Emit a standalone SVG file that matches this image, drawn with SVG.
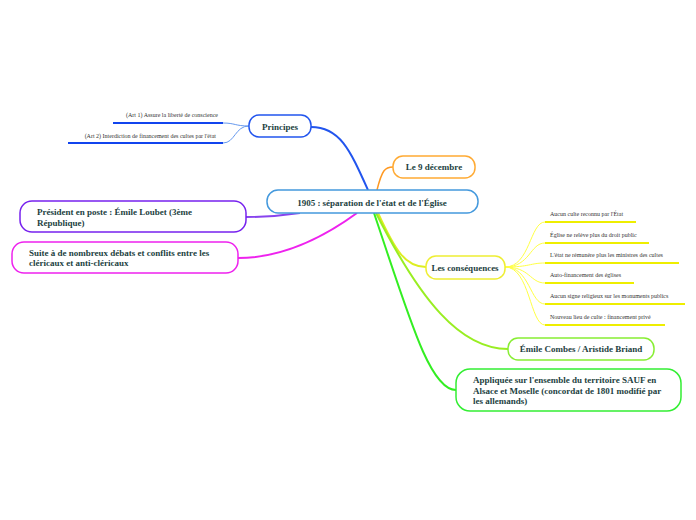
<svg xmlns="http://www.w3.org/2000/svg" width="696" height="520" viewBox="0 0 696 520">
<style>
.n{fill:#fff;stroke-width:1.5}
.t{font-family:"Liberation Serif",serif;font-weight:bold;font-size:9px;fill:#1d3f3f}
.s{font-family:"Liberation Serif",serif;font-size:6px;fill:#333}
.c{fill:none}
</style>
<rect width="696" height="520" fill="#fff"/>
<g id="connectors">
<path class="c" d="M368 190 C350 150 340 127 311 127" stroke="#2255ee" stroke-width="2"/>
<path class="c" d="M249 126 C235 126 235 123 223 123 M249 126 C235 126 235 143 223 143" stroke="#6699ee" stroke-width="1"/>
<line x1="113" y1="123" x2="223" y2="123" stroke="#1144ee" stroke-width="2"/>
<line x1="68" y1="143" x2="223" y2="143" stroke="#1144ee" stroke-width="2"/>
<path class="c" d="M377 190 C382 170 385 167 393 167" stroke="#ff9922" stroke-width="1.5"/>
<path class="c" d="M300 213 C280 216 260 217 246 217" stroke="#8844ee" stroke-width="2"/>
<path class="c" d="M357 213 C320 240 280 258 238 258" stroke="#ee22ee" stroke-width="2"/>
<path class="c" d="M378 213 C395 250 405 267 426 267" stroke="#ddee22" stroke-width="2"/>
<path class="c" d="M376 213 C420 300 460 349 508 349" stroke="#99ee22" stroke-width="2"/>
<path class="c" d="M374 213 C410 320 430 390 456 390" stroke="#33ee22" stroke-width="2"/>
<g stroke="#ffff44" stroke-width="1" fill="none">
<path d="M505 267 C530 267 530 222 545 222"/>
<path d="M505 267 C530 267 530 243 545 243"/>
<path d="M505 267 C530 267 530 263 545 263"/>
<path d="M505 267 C530 267 530 283 545 283"/>
<path d="M505 267 C530 267 530 304 545 304"/>
<path d="M505 267 C530 267 530 325 545 325"/>
</g>
<g stroke="#eeee00" stroke-width="2">
<line x1="545" y1="222" x2="636" y2="222"/>
<line x1="545" y1="243" x2="649" y2="243"/>
<line x1="545" y1="263" x2="679" y2="263"/>
<line x1="545" y1="283" x2="634" y2="283"/>
<line x1="545" y1="304" x2="685" y2="304"/>
<line x1="545" y1="325" x2="665" y2="325"/>
</g>
</g>
<g id="center"><rect class="n" x="267" y="190" width="211" height="23" rx="11" stroke="#4499dd"/><text class="t" x="372" y="206" text-anchor="middle" font-size="11">1905 : séparation de l'état et de l'Église</text></g>
<g id="principes"><rect class="n" x="249" y="115" width="62" height="22" rx="10" stroke="#2255ee"/><text class="t" x="280" y="130" text-anchor="middle">Principes</text>
<text class="s" x="218" y="117" text-anchor="end">(Art 1) Assure la liberté de conscience</text>
<text class="s" x="216" y="138" text-anchor="end">(Art 2) Interdiction de financement des cultes par l'état</text></g>
<g id="decembre"><rect class="n" x="393" y="156" width="82" height="22" rx="10" stroke="#ffaa33"/><text class="t" x="434" y="170" text-anchor="middle">Le 9 décembre</text></g>
<g id="president"><rect class="n" x="20" y="201" width="226" height="31" rx="12" stroke="#7722ee"/><text class="t" x="37" y="215">Président en poste : Émile Loubet (3ème</text><text class="t" x="37" y="226">République)</text></g>
<g id="suite"><rect class="n" x="12" y="242" width="226" height="31" rx="12" stroke="#ee22ee"/><text class="t" x="29" y="256">Suite à de nombreux débats et conflits entre les</text><text class="t" x="29" y="266">cléricaux et anti-cléricaux</text></g>
<g id="consequences"><rect class="n" x="426" y="256" width="79" height="23" rx="10" stroke="#eeee33"/><text class="t" x="465" y="271" text-anchor="middle">Les conséquences</text>
<text class="s" x="550" y="216">Aucun culte reconnu par l'État</text>
<text class="s" x="550" y="237">Église ne relève plus du droit public</text>
<text class="s" x="550" y="257">L'état ne rémunère plus les ministres des cultes</text>
<text class="s" x="550" y="277">Auto-financement des églises</text>
<text class="s" x="550" y="298">Aucun signe religieux sur les monuments publics</text>
<text class="s" x="550" y="319">Nouveau lieu de culte : financement privé</text></g>
<g id="combes"><rect class="n" x="508" y="338" width="146" height="22" rx="10" stroke="#88ee33"/><text class="t" x="581" y="352" text-anchor="middle">Émile Combes / Aristide Briand</text></g>
<g id="appliquee"><rect class="n" x="456" y="369" width="225" height="42" rx="14" stroke="#33ee33"/><text class="t" x="473" y="383">Appliquée sur l'ensemble du territoire SAUF en</text><text class="t" x="473" y="394">Alsace et Moselle (concordat de 1801 modifié par</text><text class="t" x="473" y="404">les allemands)</text></g>
</svg>
